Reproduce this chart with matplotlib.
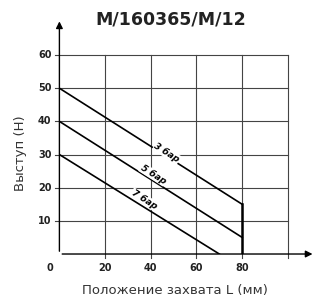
import matplotlib.pyplot as plt
import numpy as np

# data
pressures = ['3 бар', '5 бар', '7 бар']
line_x = [[0, 80], [0, 80], [0, 70]]
line_y = [[50, 15], [40, 5], [30, 0]]
label_pos = [(47, 30.5), (41, 24.0), (37, 16.5)]
xticks = [20, 40, 60, 80]
yticks = [10, 20, 30, 40, 50, 60]

fig = plt.figure(figsize=(3.16, 3.07), dpi=100)
ax = fig.add_axes([0.188, 0.1726, 0.723, 0.648])
ax.set_xlim(0, 100)
ax.set_ylim(0, 60)

# grid
for gx in [20, 40, 60, 80, 100]:
    ax.plot([gx, gx], [-1.3, 60], color='#444444', lw=0.8, clip_on=False, zorder=1)
for gy in yticks:
    ax.plot([-1.8, 100], [gy, gy], color='#444444', lw=0.8, clip_on=False, zorder=1)

for s in ax.spines.values():
    s.set_visible(False)
ax.set_xticks([])
ax.set_yticks([])

# axes with arrows
ax.annotate('', xy=(112, 0), xytext=(0, 0), xycoords='data',
            arrowprops=dict(arrowstyle='-|>', color='black', lw=1.0, mutation_scale=10),
            annotation_clip=False)
ax.annotate('', xy=(0, 71), xytext=(0, 0), xycoords='data',
            arrowprops=dict(arrowstyle='-|>', color='black', lw=1.0, mutation_scale=10),
            annotation_clip=False)

# pressure lines
for xs, ys in zip(line_x, line_y):
    ax.plot(xs, ys, color='black', lw=1.2, zorder=3)
ax.plot([80, 80], [0, 15], color='black', lw=1.8, zorder=3)

ang = np.degrees(np.arctan(0.4375 * 3.317 / 2.286))
for name, (lx, ly) in zip(pressures, label_pos):
    ax.text(lx, ly, name, rotation=-ang, fontsize=6.5, fontweight='bold', style='italic',
            ha='center', va='center', zorder=4,
            bbox=dict(facecolor='white', edgecolor='none', pad=0.3))

for t in xticks:
    ax.text(t, -2.8, str(t), ha='center', va='top', fontsize=7, fontweight='bold', color='#222222')
for t in yticks:
    ax.text(-3.5, t, str(t), ha='right', va='center', fontsize=7, fontweight='bold', color='#222222')
ax.text(-2.8, -2.8, '0', ha='right', va='top', fontsize=7, fontweight='bold', color='#222222')

fig.text(0.54, 0.935, 'M/160365/M/12', ha='center', va='center', fontsize=12.5, fontweight='bold',
         color='#222222')
fig.text(0.065, 0.50, 'Выступ (Н)', rotation=90, ha='center', va='center', fontsize=9.5, color='#333333')
fig.text(0.555, 0.055, 'Положение захвата L (мм)', ha='center', va='center', fontsize=9.5, color='#333333')

fig.savefig('out.png', dpi=100)
